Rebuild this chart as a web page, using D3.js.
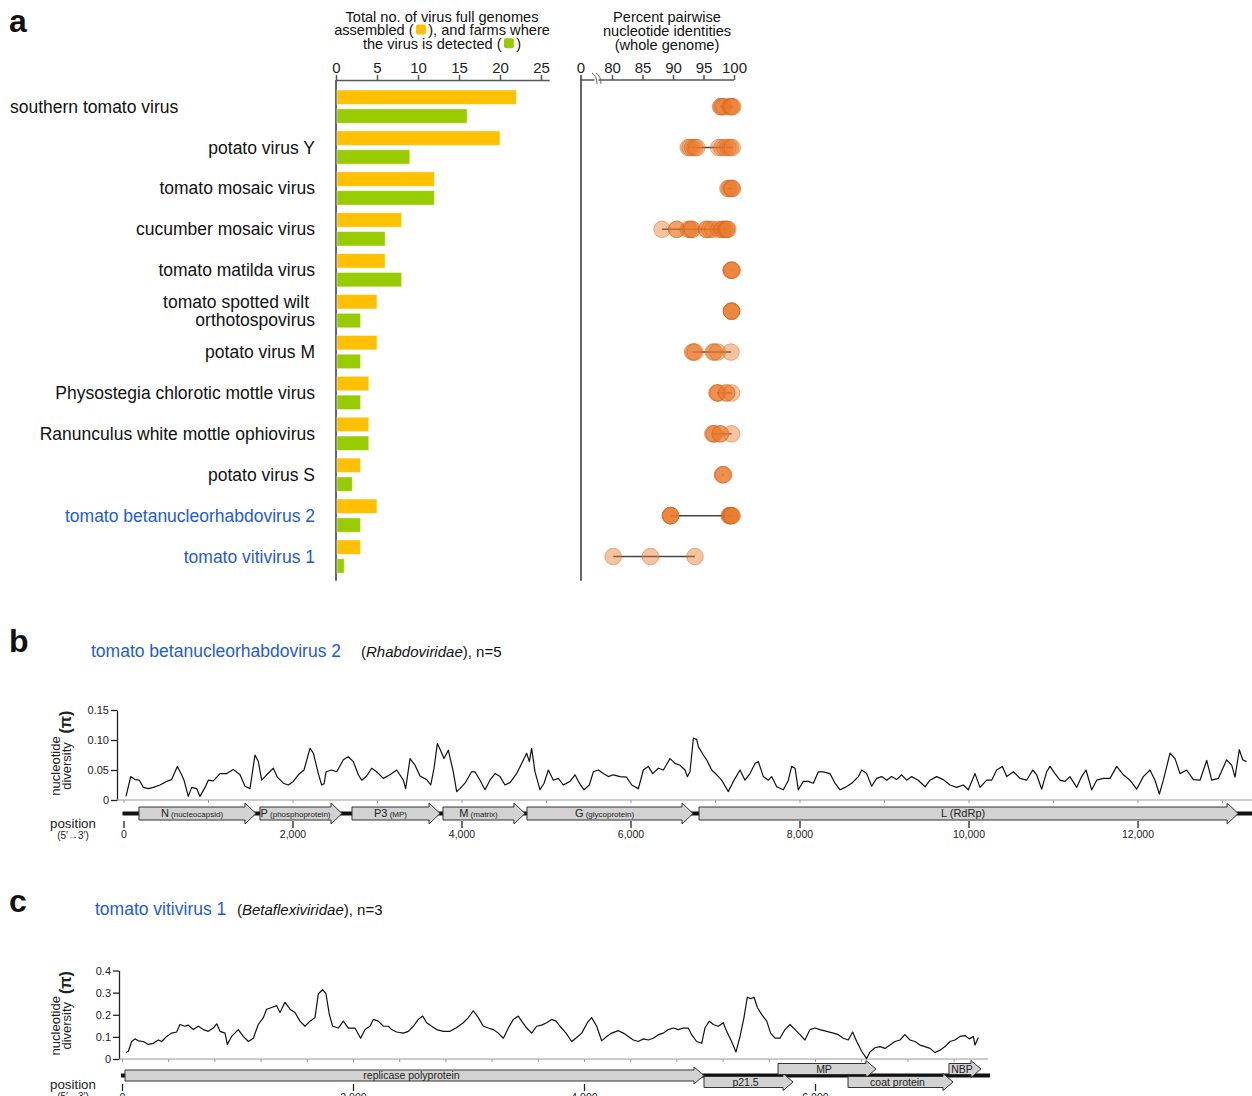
<!DOCTYPE html>
<html>
<head>
<meta charset="utf-8">
<title>Virus genomes and nucleotide diversity</title>
<style>
  body { margin: 0; background: #fff; }
  svg { font-family: "Liberation Sans", Arial, Helvetica, sans-serif; }
</style>
</head>
<body>
<svg id="fig" width="1252" height="1096"></svg>
<script src="https://d3js.org/d3.v7.min.js"></script>
<script>
// ---------- panel a data ----------
var viruses = ["southern tomato virus", "potato virus Y", "tomato mosaic virus", "cucumber mosaic virus",
  "tomato matilda virus", "tomato spotted wilt orthotospovirus", "potato virus M",
  "Physostegia chlorotic mottle virus", "Ranunculus white mottle ophiovirus", "potato virus S",
  "tomato betanucleorhabdovirus 2", "tomato vitivirus 1"];
var newViruses = ["tomato betanucleorhabdovirus 2", "tomato vitivirus 1"];
var genomesAssembled = [22, 20, 12, 8, 6, 5, 5, 4, 4, 3, 5, 3];
var farmsDetected    = [16,  9, 12, 6, 8, 3, 3, 3, 4, 2, 3, 1];
var countTicks = [0, 5, 10, 15, 20, 25];
var identityTicks = [80, 85, 90, 95, 100];
// pairwise identities (%), one entry per comparison
var pairwiseIdentity = [
  [97.8, 97.9, 98.1, 98.3, 99.3, 99.5, 99.6, 99.8],
  [92.5, 92.8, 93.2, 93.6, 93.9, 97.5, 98, 98.5, 99, 99.4, 99.7],
  [99, 99.2, 99.5, 99.7, 99.7],
  [88.2, 90.6, 90.6, 92.5, 92.8, 93, 93.2, 95.5, 95.5, 96, 96.5, 97.5, 98, 98.2, 98.5, 98.8, 98.8, 99],
  [99.5, 99.6, 99.6, 99.7],
  [99.6, 99.6, 99.6, 99.6],
  [93.2, 93.4, 93.6, 96.6, 96.8, 97.3, 99.5],
  [97.2, 97.3, 97.4, 98.8, 98.8, 99.6],
  [96.5, 96.7, 96.8, 97.7, 97.8, 99.6],
  [98.1, 98.2, 98.3],
  [89.6, 89.6, 89.6, 89.6, 99.2, 99.3, 99.4, 99.5, 99.6, 99.7],
  [80.2, 86.3, 93.6]
];

// ---------- panel b data (tomato betanucleorhabdovirus 2) ----------
var bGenomeLength = 13360;
var bGeneNames = ["N", "P", "P3", "M", "G", "L"];
var bGeneNotes = ["(nucleocapsid)", "(phosphoprotein)", "(MP)", "(matrix)", "(glycoprotein)", "(RdRp)"];
var bGeneStart = [183, 1615, 2704, 3781, 4775, 6811];
var bGeneEnd   = [1568, 2586, 3746, 4751, 6740, 13191];
var bPiTicks = [0, 0.05, 0.10, 0.15];
var bPosTicks = [0, 2000, 4000, 6000, 8000, 10000, 12000];
// [position, nucleotide diversity]
var bDiversity = [
  [30,0.006],[85,0.039],[136,0.034],[188,0.033],[235,0.021],[294,0.019],[353,0.021],[432,0.025],[511,0.031],[570,0.034],
  [637,0.056],[688,0.042],[716,0.033],[767,0.006],[807,0.021],[866,0.019],[905,0.006],[965,0.021],[1004,0.033],[1063,0.032],
  [1142,0.044],[1221,0.044],[1300,0.051],[1379,0.042],[1438,0.023],[1497,0.019],[1556,0.075],[1596,0.064],[1635,0.033],[1694,0.042],
  [1773,0.053],[1821,0.038],[1892,0.028],[1951,0.025],[2010,0.031],[2069,0.042],[2136,0.050],[2207,0.086],[2247,0.078],[2306,0.044],
  [2345,0.025],[2373,0.027],[2397,0.047],[2464,0.050],[2523,0.047],[2602,0.067],[2661,0.072],[2720,0.064],[2779,0.042],[2819,0.033],
  [2878,0.040],[2937,0.053],[2996,0.047],[3075,0.036],[3154,0.042],[3233,0.050],[3312,0.033],[3339,0.019],[3391,0.069],[3450,0.058],
  [3509,0.040],[3588,0.034],[3636,0.025],[3675,0.053],[3714,0.094],[3754,0.082],[3793,0.069],[3844,0.083],
  [3903,0.047],[3943,0.014],[3982,0.019],[4041,0.028],[4120,0.047],[4160,0.047],[4219,0.033],[4278,0.017],[4337,0.033],[4397,0.044],
  [4456,0.039],[4515,0.025],[4574,0.029],[4653,0.044],[4712,0.061],[4771,0.078],[4803,0.064],[4830,0.086],[4870,0.047],[4929,0.017],
  [4977,0.028],[5028,0.050],[5087,0.033],[5146,0.036],[5205,0.025],[5284,0.031],[5343,0.042],[5395,0.028],[5450,0.017],[5513,0.025],
  [5560,0.047],[5619,0.050],[5679,0.044],[5738,0.039],[5797,0.042],[5876,0.039],[5955,0.038],[6014,0.025],[6093,0.019],[6152,0.050],
  [6211,0.056],[6263,0.044],[6330,0.053],[6389,0.050],[6468,0.069],[6527,0.061],[6586,0.058],[6645,0.050],[6673,0.039],[6704,0.047],
  [6744,0.103],[6783,0.101],[6803,0.089],[6862,0.075],[6901,0.067],[6961,0.050],[7020,0.042],[7079,0.033],[7158,0.014],[7217,0.031],
  [7296,0.050],[7355,0.033],[7414,0.044],[7474,0.061],[7513,0.064],[7572,0.039],[7631,0.033],[7671,0.039],[7730,0.022],[7809,0.017],
  [7868,0.033],[7907,0.056],[7947,0.053],[7986,0.017],[8046,0.031],[8105,0.031],[8164,0.028],[8223,0.047],[8282,0.047],[8361,0.044],
  [8420,0.028],[8480,0.017],[8539,0.021],[8618,0.028],[8697,0.039],
  [8736,0.050],[8795,0.044],[8854,0.023],[8913,0.036],[8973,0.039],[9032,0.033],[9091,0.039],[9150,0.034],[9209,0.042],[9268,0.033],
  [9328,0.039],[9406,0.033],[9485,0.022],[9544,0.033],[9623,0.039],[9702,0.034],[9781,0.025],[9860,0.021],[9939,0.025],[9998,0.017],
  [10077,0.044],[10136,0.021],[10215,0.033],[10274,0.033],[10333,0.050],[10401,0.056],[10452,0.039],[10531,0.047],[10610,0.036],[10688,0.033],
  [10760,0.050],[10807,0.042],[10866,0.018],[10925,0.047],[10965,0.056],[11024,0.044],[11083,0.033],[11142,0.031],[11201,0.039],[11280,0.021],
  [11339,0.039],[11391,0.050],[11458,0.017],[11517,0.033],[11596,0.036],[11675,0.036],[11754,0.056],[11833,0.042],[11911,0.033],[11990,0.018],
  [12069,0.039],[12148,0.050],[12207,0.033],[12259,0.010],[12306,0.033],[12385,0.078],[12444,0.069],[12503,0.044],[12582,0.050],[12661,0.034],
  [12740,0.033],[12819,0.066],[12878,0.033],[12957,0.036],[13055,0.067],[13115,0.058],[13154,0.038],[13205,0.084],[13245,0.067],[13290,0.064]
];

// ---------- panel c data (tomato vitivirus 1) ----------
var cGenomeLength = 7515;
var cGeneNames = ["replicase polyprotein", "p21.5", "MP", "coat protein", "NBP"];
var cGeneStart = [26, 5039, 5680, 6286, 7160];
var cGeneEnd   = [5039, 5810, 6528, 7195, 7437];
var cPiTicks = [0, 0.1, 0.2, 0.3, 0.4];
var cPosTicks = [0, 2000, 4000, 6000];
var cDiversity = [
  [35,0.029],[55,0.035],[84,0.079],[113,0.091],[141,0.082],[185,0.079],[228,0.066],[271,0.071],[315,0.086],[343,0.079],
  [387,0.102],[430,0.117],[473,0.122],[502,0.156],[545,0.148],[574,0.153],[618,0.133],[661,0.148],[704,0.133],[747,0.125],
  [791,0.140],[820,0.159],[849,0.125],[892,0.117],[912,0.066],[949,0.102],[1007,0.133],[1050,0.102],[1094,0.079],[1137,0.094],
  [1180,0.156],[1224,0.187],[1252,0.225],[1296,0.233],[1339,0.241],[1368,0.210],[1411,0.256],[1455,0.225],[1498,0.210],[1541,0.171],
  [1584,0.148],[1628,0.171],[1671,0.187],[1700,0.295],[1737,0.313],[1766,0.295],[1795,0.202],[1824,0.148],[1873,0.140],[1916,0.171],
  [1960,0.140],[2017,0.140],[2066,0.094],[2104,0.133],[2147,0.148],[2176,0.179],[2219,0.171],[2263,0.148],[2306,0.148],[2335,0.133],
  [2378,0.122],[2436,0.117],[2479,0.125],[2522,0.148],[2566,0.179],[2603,0.194],[2638,0.164],[2681,0.148],[2724,0.133],[2782,0.125],
  [2840,0.125],[2892,0.140],[2955,0.164],[2998,0.187],[3042,0.218],[3085,0.187],[3128,0.148],[3172,0.140],[3215,0.133],[3258,0.117],
  [3302,0.094],[3345,0.140],[3388,0.179],[3431,0.194],[3460,0.171],[3504,0.140],[3547,0.117],[3590,0.148],[3633,0.153],[3677,0.164],
  [3720,0.179],[3758,0.171],[3792,0.148],[3844,0.117],[3893,0.079],[3937,0.097],[3980,0.117],[4029,0.164],[4066,0.187],[4110,0.148],
  [4153,0.082],[4196,0.102],[4240,0.117],[4297,0.128],[4341,0.117],[4384,0.102],[4427,0.086],[4470,0.079],[4514,0.091],[4557,0.086],
  [4600,0.094],[4644,0.110],[4687,0.117],[4730,0.133],[4773,0.140],[4817,0.133],[4860,0.140],[4903,0.140],[4932,0.110],[4975,0.079],
  [5019,0.071],[5047,0.140],[5085,0.171],[5120,0.156],[5163,0.148],[5206,0.164],[5235,0.125],[5278,0.079],[5316,0.032],[5351,0.102],
  [5385,0.187],[5414,0.279],[5443,0.272],[5472,0.279],[5501,0.233],[5538,0.202],[5582,0.171],[5616,0.117],[5654,0.094],[5697,0.094],
  [5740,0.133],[5784,0.156],[5827,0.133],[5870,0.110],[5913,0.086],[5957,0.133],[6000,0.140],[6043,0.133],[6101,0.125],[6159,0.117],
  [6202,0.110],[6245,0.094],[6288,0.086],[6326,0.122],[6361,0.079],[6404,0.035],[6447,0.002],[6476,0.032],[6519,0.051],[6563,0.056],
  [6606,0.048],[6649,0.063],[6692,0.079],[6736,0.086],[6779,0.110],[6822,0.086],[6866,0.079],[6909,0.063],[6952,0.056],[6996,0.048],
  [7039,0.029],[7082,0.040],[7126,0.056],[7169,0.079],[7212,0.086],[7255,0.102],[7299,0.106],[7336,0.091],[7371,0.102],[7385,0.063],
  [7414,0.097]
];

var blue = "#1f5bd5";
var svg = d3.select("#fig");

function styleAxis(g, size) {
  g.attr("font-family", null).attr("font-size", size);
  g.selectAll("text").attr("fill", "#222");
  g.selectAll("line, path").attr("stroke", "#333");
}

// panel letters
[["a", 31.5], ["b", 651.5], ["c", 912]].forEach(function (d) {
  svg.append("text").attr("x", 9).attr("y", d[1]).attr("font-size", 32)
    .attr("font-weight", "bold").attr("fill", "#111").text(d[0]);
});

// ================= panel a =================
var rows = viruses.map(function (v, i) {
  return { virus: v, assembled: genomesAssembled[i], farms: farmsDetected[i], pid: pairwiseIdentity[i] };
});
var rowY = d3.scaleBand().domain(viruses).range([82.4, 580.8]).padding(0.186);
var seriesY = d3.scaleBand().domain(["assembled", "farms"]).range([0, rowY.bandwidth()]).paddingInner(0.23);
var seriesColor = { assembled: "#ffc000", farms: "#99cc00" };
var countX = d3.scaleLinear().domain([0, 26]).range([336, 549.2]);
var pidX = d3.scaleLinear().domain([80, 100]).range([612, 734]);

// headers
var hdr = svg.append("g").attr("font-size", 14.6).attr("fill", "#111");
var head1 = ["Total no. of virus full genomes", "assembled (\u2002\u2002), and farms where", "the virus is detected (\u2002\u2002)"];
var head1Key = [null, "assembled", "farms"];
head1.forEach(function (t, i) {
  var base = 21.5 + i * 13.6;
  var txt = hdr.append("text").attr("x", 442).attr("y", base).attr("text-anchor", "middle").text(t);
  if (head1Key[i]) {
    var node = txt.node();
    var k = t.indexOf("(") + 1;
    var x0 = node.getStartPositionOfChar(k).x, x1 = node.getEndPositionOfChar(k + 1).x;
    hdr.append("rect").attr("x", (x0 + x1) / 2 - 5).attr("y", base - 10.5).attr("width", 10).attr("height", 10)
      .attr("rx", 2).attr("fill", seriesColor[head1Key[i]]);
  }
});
["Percent pairwise", "nucleotide identities", "(whole genome)"].forEach(function (t, i) {
  hdr.append("text").attr("x", 667).attr("y", 22 + i * 14.2).attr("text-anchor", "middle").text(t);
});

// count axis
var cAx = svg.append("g").attr("transform", "translate(0,80)")
  .call(d3.axisTop(countX).tickValues(countTicks).tickSize(5).tickSizeOuter(0).tickPadding(2));
styleAxis(cAx, 15);
cAx.selectAll("path, line").attr("stroke", "#555").attr("stroke-width", 1.5);
svg.append("line").attr("x1", countX(0)).attr("x2", countX(0)).attr("y1", 80).attr("y2", 580.8)
  .attr("stroke", "#555").attr("stroke-width", 1.8);

// bars
var barG = svg.append("g").selectAll("g").data(rows).join("g")
  .attr("transform", function (d) { return "translate(0," + rowY(d.virus) + ")"; });
barG.selectAll("rect").data(function (d) {
  return ["assembled", "farms"].map(function (k) { return { key: k, value: d[k] }; });
}).join("rect")
  .attr("x", countX(0) + 1)
  .attr("y", function (d) { return seriesY(d.key); })
  .attr("width", function (d) { return countX(d.value) - countX(0) - 1; })
  .attr("height", seriesY.bandwidth())
  .attr("fill", function (d) { return seriesColor[d.key]; })
  .attr("stroke", "#fff").attr("stroke-opacity", 0.5).attr("stroke-width", 1);

// row labels
var lab = svg.append("g").attr("font-size", 17.5);
rows.forEach(function (d, i) {
  var cy = rowY(d.virus) + rowY.bandwidth() / 2;
  var lines = d.virus === "tomato spotted wilt orthotospovirus" ? ["tomato spotted wilt", "orthotospovirus"] : [d.virus];
  var t = lab.append("text")
    .attr("fill", newViruses.indexOf(d.virus) >= 0 ? blue : "#111")
    .attr("text-anchor", i === 0 ? "start" : "end");
  lines.forEach(function (s, j) {
    var off = lines.length > 1 ? (j === 0 ? -9 : 9) : 0;
    t.append("tspan").attr("x", i === 0 ? 10 : (lines.length > 1 && j === 0 ? 309 : 315))
      .attr("y", cy + 6 + off).text(s);
  });
});

// identity axis (broken at 0 -> 80)
var iAx = svg.append("g").attr("transform", "translate(0,80)")
  .call(d3.axisTop(pidX).tickValues(identityTicks).tickSize(5).tickSizeOuter(0).tickPadding(2));
styleAxis(iAx, 15);
iAx.select(".domain").remove();
iAx.selectAll("line").attr("stroke", "#555").attr("stroke-width", 1.5);
svg.append("line").attr("x1", 581).attr("x2", pidX(100)).attr("y1", 80).attr("y2", 80)
  .attr("stroke", "#555").attr("stroke-width", 1.5);
svg.append("line").attr("x1", 581).attr("x2", 581).attr("y1", 75).attr("y2", 580.8)
  .attr("stroke", "#555").attr("stroke-width", 1.8);
svg.append("text").attr("x", 581).attr("y", 73).attr("text-anchor", "middle").attr("font-size", 15)
  .attr("fill", "#222").text("0");
svg.append("rect").attr("x", 594.5).attr("y", 78).attr("width", 4).attr("height", 4).attr("fill", "#fff");
[[592, 597], [596, 601]].forEach(function (p) {
  svg.append("path").attr("d", "M" + p[0] + ",73 Q" + (p[0] + 5) + ",76 " + p[1] + ",84")
    .attr("fill", "none").attr("stroke", "#666").attr("stroke-width", 1);
});

// identity dots
var dotG = svg.append("g");
rows.forEach(function (d) {
  var cy = rowY(d.virus) + rowY.bandwidth() / 2;
  var ext = d3.extent(d.pid);
  dotG.append("line").attr("x1", pidX(ext[0])).attr("x2", pidX(ext[1])).attr("y1", cy).attr("y2", cy)
    .attr("stroke", "#444").attr("stroke-width", 1.5);
  dotG.selectAll(null).data(d.pid).join("circle")
    .attr("cx", function (v) { return pidX(v); }).attr("cy", cy).attr("r", 8.3)
    .attr("fill", "#eb7a2d").attr("fill-opacity", 0.45)
    .attr("stroke", "#cf6219").attr("stroke-opacity", 0.45).attr("stroke-width", 1);
});

// ================= diversity panels =================
function diversityPanel(o) {
  var g = svg.append("g");
  var x = d3.scaleLinear().domain([0, o.length]).range(o.xRange);
  var y = d3.scaleLinear().domain([0, o.piMax]).range(o.yRange);

  // title
  g.append("text").attr("x", o.titleX).attr("y", o.titleY).attr("font-size", 17.5).attr("fill", blue).text(o.name);
  var t2 = g.append("text").attr("x", o.familyX).attr("y", o.titleY).attr("font-size", 15).attr("fill", "#111");
  t2.append("tspan").text("(");
  t2.append("tspan").attr("font-style", "italic").text(o.family);
  t2.append("tspan").text("), n=" + o.n);

  // y axis
  var yAx = g.append("g").attr("transform", "translate(" + o.yAxisX + ",0)")
    .call(d3.axisLeft(y).tickValues(o.piTicks).tickSize(6).tickSizeOuter(0).tickPadding(2)
      .tickFormat(function (v) { return v === 0 ? "0" : d3.format(o.fmt)(v); }));
  styleAxis(yAx, 11);
  yAx.selectAll("path, line").attr("stroke", "#222").attr("stroke-width", 1.3);

  // grey baseline with minor ticks
  var base = g.append("g").attr("transform", "translate(0," + o.yRange[0] + ")")
    .call(d3.axisBottom(x).tickValues(d3.range(0, o.length, o.minorStep)).tickSize(3).tickSizeOuter(0).tickFormat(""));
  base.select(".domain").attr("d", "M" + o.yAxisX + ",0H" + (o.baseEnd || x.range()[1]));
  base.selectAll("path, line").attr("stroke", "#999").attr("stroke-width", 1);

  // y label
  var midY = (o.yRange[0] + o.yRange[1]) / 2 + o.labelShift;
  [["nucleotide", 59.5], ["diversity", 71]].forEach(function (p) {
    g.append("text").attr("transform", "translate(" + p[1] + "," + midY + ") rotate(-90)")
      .attr("text-anchor", "middle").attr("font-size", 13).attr("fill", "#222").text(p[0]);
  });
  g.append("text").attr("transform", "translate(70.5," + o.piY + ") rotate(-90)")
    .attr("text-anchor", "middle").attr("font-size", 16).attr("font-weight", "bold").attr("fill", "#222").text("(\u03c0)");

  // diversity trace
  g.append("path").datum(o.trace)
    .attr("d", d3.line().x(function (d) { return x(d[0]); }).y(function (d) { return y(d[1]); }))
    .attr("fill", "none").attr("stroke", "#111").attr("stroke-width", 1.2).attr("stroke-linejoin", "round");

  // genome map
  g.append("line").attr("x1", x(0) - 1).attr("x2", o.genomeEnd).attr("y1", o.genomeY).attr("y2", o.genomeY)
    .attr("stroke", "#111").attr("stroke-width", 4);
  o.genes.forEach(function (gene, i) {
    var row = o.track(i);
    var top = o.genomeY - o.boxH / 2 + row * o.rowShift;
    var x0 = x(gene.start), x1 = x(gene.end), hx = Math.max(x0, x1 - o.head), h = o.boxH, fl = o.flare;
    g.append("path")
      .attr("d", "M" + x0 + "," + top + "L" + hx + "," + top + "L" + hx + "," + (top - fl) + "L" + x1 + "," + (top + h / 2) +
        "L" + hx + "," + (top + h + fl) + "L" + hx + "," + (top + h) + "L" + x0 + "," + (top + h) + "Z")
      .attr("fill", "#d2d2d2").attr("stroke", "#333").attr("stroke-width", 1);
    var lt = g.append("text").attr("x", o.labelAt(x0, hx, x1)).attr("y", top + h / 2 + o.labelSize * 0.36)
      .attr("text-anchor", "middle").attr("font-size", o.labelSize).attr("fill", "#222").text(gene.name);
    if (gene.note) lt.append("tspan").attr("font-size", gene.name === "L" ? o.labelSize : 8).text(" " + gene.note);
  });

  // position axis
  var pAx = g.append("g").attr("transform", "translate(0," + o.posAxisY + ")")
    .call(d3.axisBottom(x).tickValues(o.posTicks).tickSize(7).tickPadding(3).tickFormat(d3.format(",")));
  pAx.select(".domain").remove();
  styleAxis(pAx, 10.5);
  pAx.selectAll("line").attr("stroke", "#222").attr("stroke-width", 1.3);

  g.append("text").attr("x", 73).attr("y", o.posLabelY).attr("text-anchor", "middle").attr("font-size", 13.3)
    .attr("fill", "#222").text("position");
  g.append("text").attr("x", 73).attr("y", o.posLabelY + 11).attr("text-anchor", "middle").attr("font-size", 10)
    .attr("fill", "#222").text("(5\u2032\u21923\u2032)");
}

diversityPanel({
  name: "tomato betanucleorhabdovirus 2", family: "Rhabdoviridae", n: 5,
  titleX: 91, familyX: 361, titleY: 657,
  length: bGenomeLength, xRange: [123.5, 123.5 + bGenomeLength * 0.0845],
  piMax: 0.15, yRange: [800, 710], piTicks: bPiTicks, fmt: ".2f", yAxisX: 117,
  minorStep: 1000, labelShift: 11, piY: 722,
  trace: bDiversity,
  genomeY: 813.5, genomeEnd: 1252, boxH: 13, rowShift: 0, head: 11, flare: 4, labelSize: 11,
  track: function () { return 0; },
  labelAt: function (x0, hx) { return (x0 + hx) / 2; },
  genes: bGeneNames.map(function (n, i) { return { name: n, note: bGeneNotes[i], start: bGeneStart[i], end: bGeneEnd[i] }; }),
  posAxisY: 821, posTicks: bPosTicks, posLabelY: 828
});

diversityPanel({
  name: "tomato vitivirus 1", family: "Betaflexiviridae", n: 3,
  titleX: 95, familyX: 237, titleY: 915,
  length: cGenomeLength, xRange: [122, 122 + cGenomeLength * 0.1155],
  piMax: 0.4, yRange: [1059, 970.5], piTicks: cPiTicks, fmt: ".1f", yAxisX: 119,
  minorStep: 400, labelShift: 11, piY: 982.5, baseEnd: 988,
  trace: cDiversity,
  genomeY: 1075.5, genomeEnd: 990, boxH: 11, rowShift: 6.5, head: 10, flare: 3, labelSize: 10.5,
  track: function (i) { return i === 0 ? 0 : (i % 2 ? 1 : -1); },
  labelAt: function (x0, hx, x1) { return (x0 + x1) / 2 - 3; },
  genes: cGeneNames.map(function (n, i) { return { name: n, start: cGeneStart[i], end: cGeneEnd[i] }; }),
  posAxisY: 1084, posTicks: cPosTicks, posLabelY: 1089
});
</script>
</body>
</html>
